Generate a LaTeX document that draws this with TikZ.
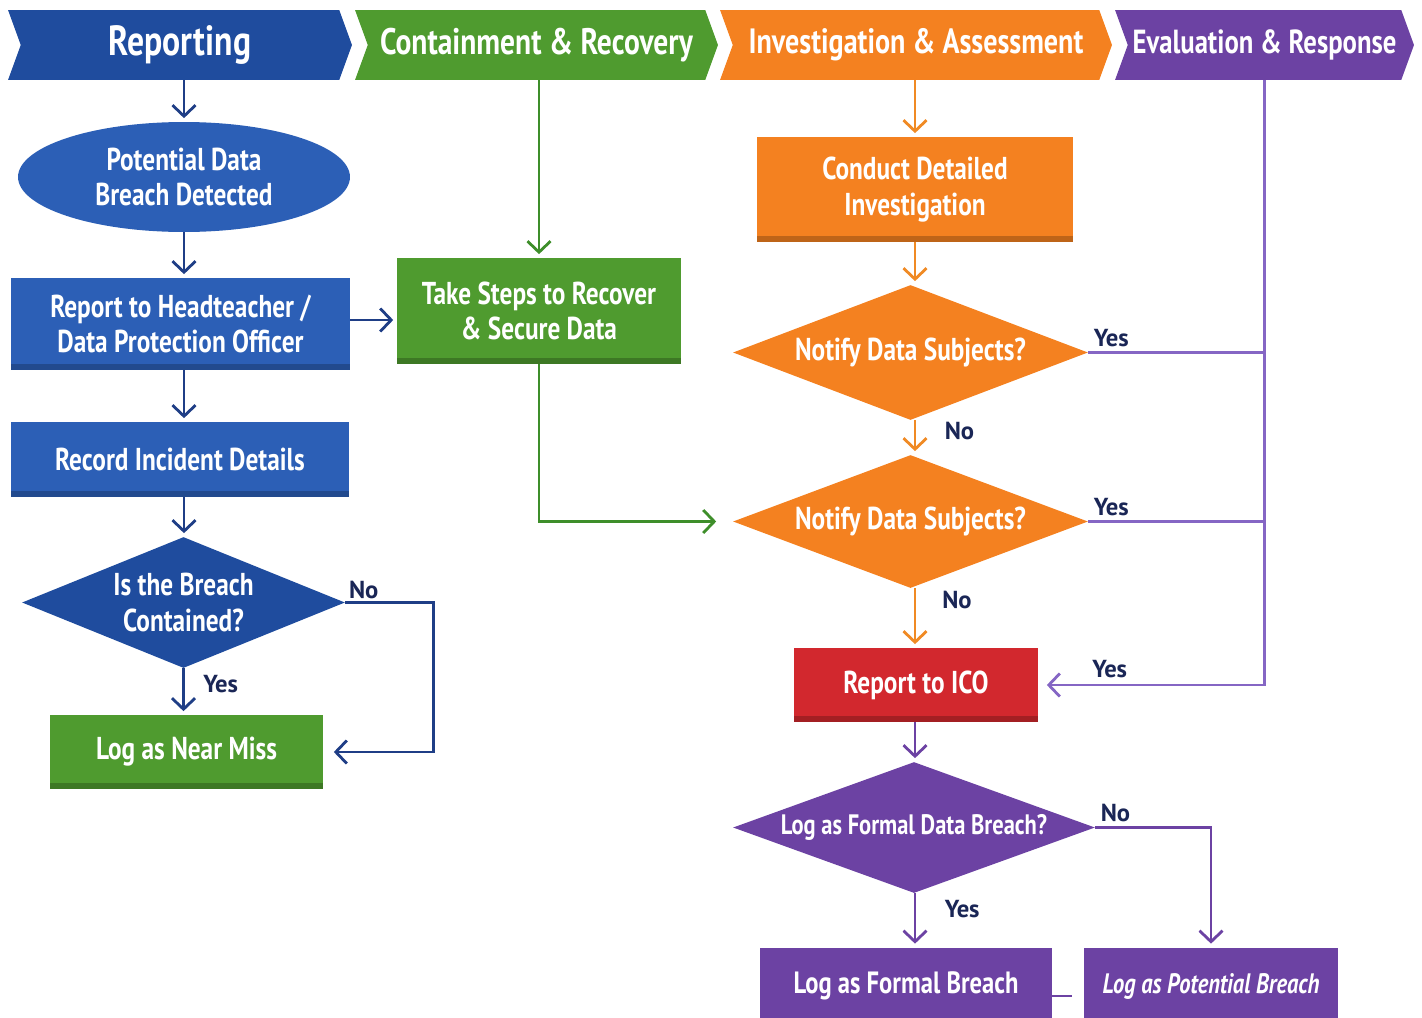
\documentclass[tikz,border=0pt]{standalone}
\usepackage{fontspec}
\setmainfont{PT Sans}[FakeStretch=0.8]
\newfontfamily\answerfont{PT Sans}
\usepackage{tikz}
\usetikzlibrary{shapes.geometric, shapes.symbols, arrows.meta}

\definecolor{repBlue}{HTML}{2C5FB6}
\definecolor{repDark}{HTML}{1F4C9E}
\definecolor{lineBlue}{HTML}{1F3E86}
\definecolor{conGreen}{HTML}{4F9B2F}
\definecolor{lineGreen}{HTML}{3E8E2A}
\definecolor{invOrange}{HTML}{F48120}
\definecolor{lineOrange}{HTML}{F08A24}
\definecolor{icoRed}{HTML}{D2282E}
\definecolor{evPurple}{HTML}{6C42A3}
\definecolor{linePurple}{HTML}{8566C4}
\definecolor{labelNavy}{HTML}{1A2656}

\begin{document}
\begin{tikzpicture}[x=0.02cm, y=-0.02cm,
    every node/.style={text=white, align=center, font=\bfseries\fontsize{18}{20}\selectfont},
    phase/.style={signal, signal to=east, signal from=west, signal pointer angle=140,
        minimum height=1.4cm, inner sep=0pt, fill=#1, font=\bfseries\fontsize{21}{23}\selectfont},
    band/.style={path picture={\fill[black, opacity=0.22]
        (path picture bounding box.south west) rectangle ([yshift=0.12cm]path picture bounding box.south east);}},
    stepbox/.style={rectangle, fill=#1, inner sep=0pt, band},
    askbox/.style={diamond, fill=#1, inner sep=0pt},
    yesno/.style={text=labelNavy, font=\answerfont\bfseries\fontsize{14}{16}\selectfont},
    flow/.style={draw=#1, line width=1.6pt, shorten >=2pt, -{Straight Barb[length=2.2mm, width=4.6mm]}},
    plain/.style={draw=#1, line width=1.6pt}]

    \useasboundingbox (0,0) rectangle (1422,1017);

    % Phase headers
    \path
    (180, 45) node[phase=repDark, minimum width=6.88cm, font=\bfseries\fontsize{24}{26}\selectfont] (hReport) {Reporting}
    (536.5, 45) node[phase=conGreen, minimum width=7.26cm] (hContain) {Containment \& Recovery}
    (916, 45) node[phase=invOrange, minimum width=7.84cm, font=\bfseries\fontsize{20}{22}\selectfont] (hInvest) {Investigation \& Assessment}
    (1264.5, 45) node[phase=evPurple, minimum width=5.98cm, font=\bfseries\fontsize{19}{21}\selectfont] (hEval) {Evaluation \& Response}
    ;

    % Reporting column nodes
    \path
    (184, 177) node[ellipse, fill=repBlue, minimum width=6.64cm, minimum height=2.2cm, inner sep=0pt] (detect) {Potential Data\\Breach Detected}
    (180.5, 324) node[stepbox=repBlue, minimum width=6.78cm, minimum height=1.84cm] (report) {Report to Headteacher /\\Data Protection Officer}
    (180, 459.5) node[stepbox=repBlue, minimum width=6.76cm, minimum height=1.5cm] (record) {Record Incident Details}
    (183.5, 602.5) node[askbox=repDark, aspect=2.47, minimum width=6.46cm, minimum height=2.62cm] (contained) {Is the Breach\\Contained?}
    (186.5, 752) node[stepbox=conGreen, minimum width=5.46cm, minimum height=1.48cm] (nearmiss) {Log as Near Miss}
    ;

    % Containment and investigation nodes
    \path
    (539, 311) node[stepbox=conGreen, minimum width=5.68cm, minimum height=2.12cm] (secure) {Take Steps to Recover\\\& Secure Data}
    (915, 189.5) node[stepbox=invOrange, minimum width=6.32cm, minimum height=2.1cm] (investigate) {Conduct Detailed\\Investigation}
    (910.5, 352.5) node[askbox=invOrange, aspect=2.63, minimum width=7.1cm, minimum height=2.7cm] (notifyA) {Notify Data Subjects?}
    (910.5, 521.5) node[askbox=invOrange, aspect=2.67, minimum width=7.1cm, minimum height=2.66cm] (notifyB) {Notify Data Subjects?}
    (916, 685) node[stepbox=icoRed, minimum width=4.88cm, minimum height=1.48cm] (ico) {Report to ICO}
    ;

    % Evaluation nodes
    \path
    (914, 827.5) node[askbox=evPurple, aspect=2.76, minimum width=7.24cm, minimum height=2.62cm, font=\bfseries\fontsize{16}{18}\selectfont] (logask) {Log as Formal Data Breach?}
    (906, 986) node[stepbox=evPurple, minimum width=5.84cm, minimum height=1.54cm, font=\bfseries\fontsize{17.5}{19}\selectfont] (formal) {Log as Formal Breach}
    (1211, 986) node[stepbox=evPurple, minimum width=5.08cm, minimum height=1.54cm, font=\bfseries\itshape\fontsize{16}{18}\selectfont] (potential) {Log as Potential Breach}
    ;

    % Reporting edges
    \draw[flow=lineBlue] (hReport.south -| detect.north) -- (detect.north);
    \draw[flow=lineBlue] (detect.south) -- (detect.south |- report.north);
    \draw[flow=lineBlue] (report.south -| detect) -- (record.north -| detect);
    \draw[flow=lineBlue] (record.south -| detect) -- (contained.north -| detect);
    \draw[flow=lineBlue] (contained.south) -- node[yesno, right=0.25cm, pos=0.35] {Yes} (contained.south |- nearmiss.north);
    \draw[flow=lineBlue] (contained.east) node[yesno, above right=-2pt] {No} -- ++(88, 0) |- ([xshift=0.14cm]nearmiss.east);
    \draw[flow=lineBlue] ([yshift=0.08cm]report.east) -- ([yshift=0.08cm]report.east -| secure.west);

    % Containment edges
    \draw[flow=lineGreen] (hContain.south -| secure.north) -- (secure.north);
    \draw[flow=lineGreen] (secure.south) |- ([xshift=-0.26cm]notifyB.west);

    % Investigation edges
    \draw[flow=lineOrange] (hInvest.south -| investigate.north) -- (investigate.north);
    \draw[flow=lineOrange] (investigate.south) -- (investigate.south |- notifyA.north);
    \draw[flow=lineOrange] (notifyA.south -| investigate) -- node[yesno, right=0.45cm, pos=0.3] {No} (notifyB.north -| investigate);
    \draw[flow=lineOrange] (notifyB.south -| investigate) -- node[yesno, right=0.4cm, pos=0.2] {No} (ico.north -| investigate);

    % Evaluation edges
    \draw[flow=linePurple] (hEval.south) |- node[yesno, above, pos=0.85] {Yes} ([xshift=0.1cm]ico.east);
    \draw[plain=linePurple] (notifyA.east) node[yesno, above right=-1pt] {Yes} -- (notifyA.east -| hEval.south);
    \draw[plain=linePurple] (notifyB.east) node[yesno, above right=-1pt] {Yes} -- (notifyB.east -| hEval.south);
    \draw[flow=evPurple] (ico.south -| investigate) -- (logask.north -| investigate);
    \draw[flow=evPurple] (logask.south -| investigate) -- node[yesno, right=0.45cm, pos=0.3] {Yes} (formal.north -| investigate);
    \draw[flow=evPurple] (logask.east) node[yesno, above right=-1pt] {No} -- ++(107, 0) -| (potential.north);
    \draw[plain=evPurple] ([yshift=-0.2cm]formal.east) -- ++(20, 0);

\end{tikzpicture}
\end{document}
